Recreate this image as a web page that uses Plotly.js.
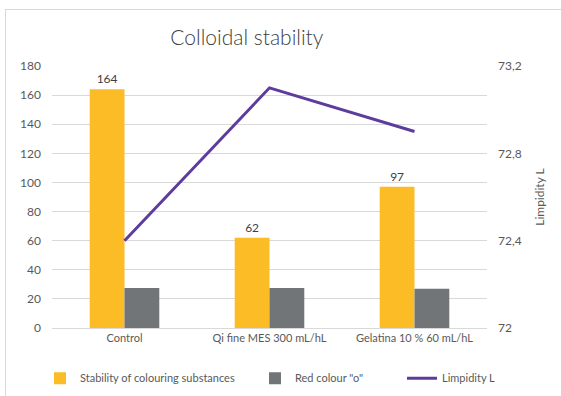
<!DOCTYPE html>
<html><head><meta charset="utf-8">
<script src="https://cdn.plot.ly/plotly-3.0.1.min.js"></script>
<style>body{margin:0;background:#fff}#frame{position:absolute;left:5px;top:9px;width:600px;height:400px;border-left:1px solid #d9d9d9;border-top:1px solid #d9d9d9;pointer-events:none}</style>
</head><body>
<div id="chart" style="width:561px;height:396px"></div>
<div id="frame"></div>
<script>
const categories = ["Control", "Qi fine MES 300 mL/hL", "Gelatina 10 % 60 mL/hL"];
const stability = [164, 62, 97];
const redColour = [27.5, 27.5, 27];
const limpidity = [72.4, 73.1, 72.9];
const leftTicks = [0, 20, 40, 60, 80, 100, 120, 140, 160, 180];
const rightTicks = [72, 72.4, 72.8, 73.2];
const rightTickText = ["72", "72,4", "72,8", "73,2"];

const fontFam = "Lato, 'Open Sans', sans-serif";
const traces = [
  {type:'bar', name:'Stability of colouring substances', x:categories, y:stability,
   marker:{color:'#FBBC26'}, text:stability.map(String), textposition:'outside',
   textfont:{size:12, color:'#404040', family:fontFam}, cliponaxis:false, legend:'legend'},
  {type:'bar', name:'Red colour "o"', x:categories, y:redColour, marker:{color:'#727578'}, legend:'legend2'},
  {type:'scatter', mode:'lines', name:'Limpidity L', x:categories, y:limpidity, yaxis:'y2',
   line:{color:'#5E3C9E', width:3}, legend:'legend3'}
];
const legBase = {orientation:'h', xref:'container', yref:'container', xanchor:'left', y:0.045, yanchor:'middle', font:{size:11, color:'#595959', family:fontFam}, itemwidth:30, bgcolor:'rgba(0,0,0,0)'};
const layout = {
  width:561, height:396,
  margin:{l:52, r:74, t:66, b:68, autoexpand:false},
  paper_bgcolor:'#fff', plot_bgcolor:'#fff',
  font:{family:fontFam, size:12, color:'#595959'},
  title:{text:'Colloidal stability', font:{size:21, color:'#404040', family:fontFam, weight:300}, x:0.44, xanchor:'center', y:0.905, yanchor:'middle'},
  barmode:'group', bargap:0.52, bargroupgap:0,
  showlegend:true,
  legend:Object.assign({}, legBase, {x:40/561}),
  legend2:Object.assign({}, legBase, {x:255/561}),
  legend3:Object.assign({}, legBase, {x:402/561}),
  xaxis:{type:'category', showgrid:false, showline:true, linecolor:'#d9d9d9', ticks:'', tickfont:{size:11, color:'#595959'}},
  yaxis:{range:[0,180], tickvals:leftTicks, showgrid:true, gridcolor:'#d9d9d9', zeroline:false, showline:false, ticks:'', tickfont:{size:12, color:'#595959'}, ticklabelstandoff:10},
  yaxis2:{overlaying:'y', side:'right', range:[72,73.2], tickvals:rightTicks, ticktext:rightTickText, showgrid:false, zeroline:false, showline:false, ticks:'', tickfont:{size:12, color:'#595959'}, ticklabelstandoff:10,
    title:{text:'Limpidity L', font:{size:12, color:'#595959'}, standoff:14}}
};
Plotly.newPlot('chart', traces, layout, {displayModeBar:false, staticPlot:true});
</script>
</body></html>
